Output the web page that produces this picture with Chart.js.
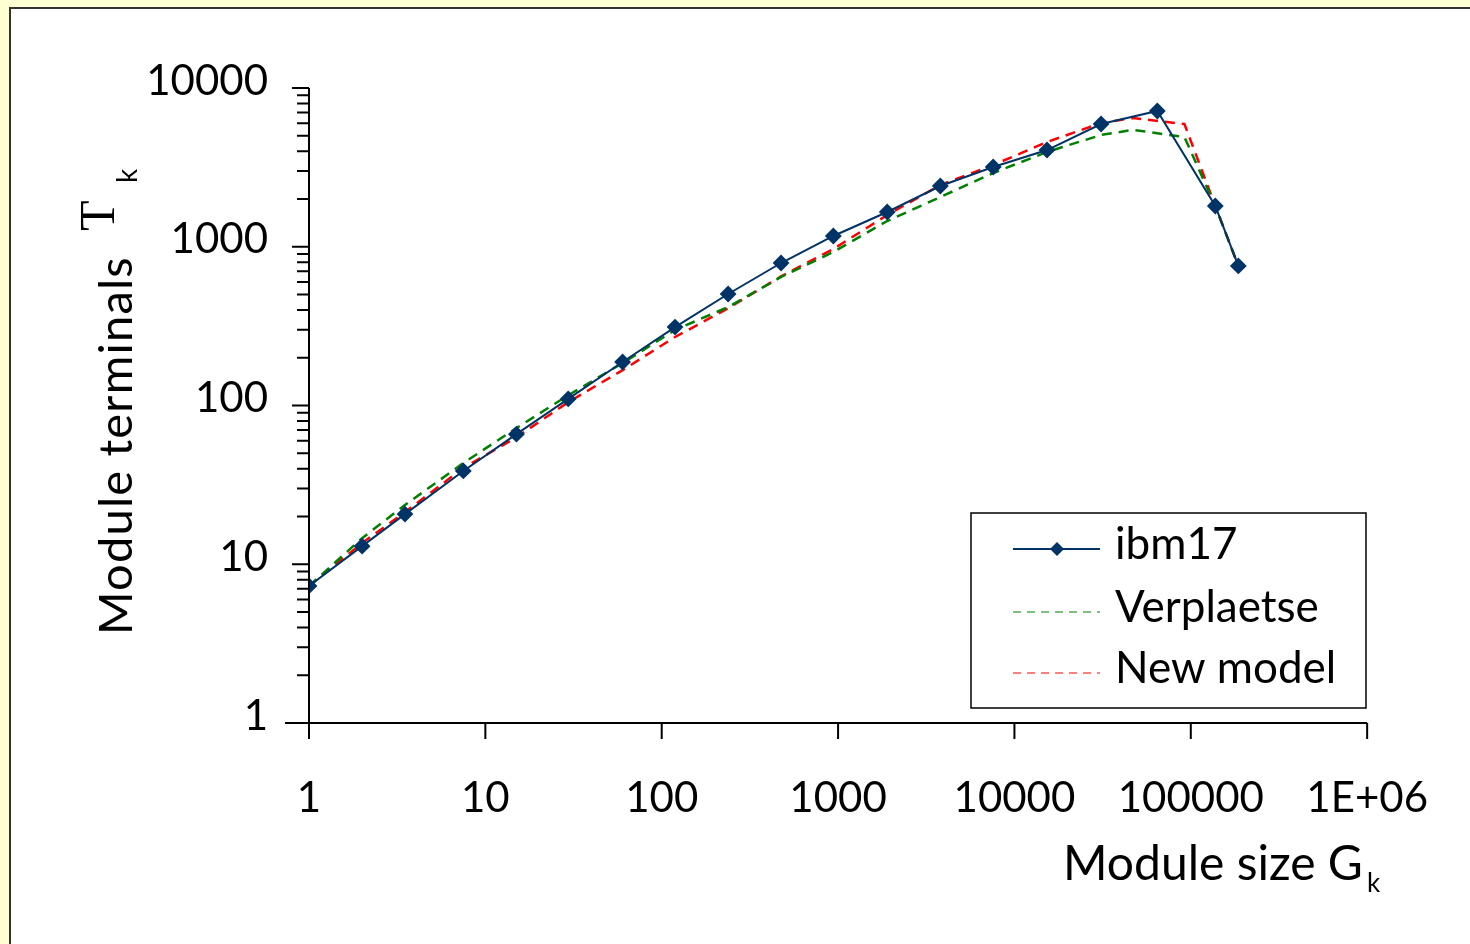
<!DOCTYPE html>
<html>
<head>
<meta charset="utf-8">
<script src="https://cdn.jsdelivr.net/npm/chart.js@4.4.1/dist/chart.umd.min.js"></script>
<style>
  html, body { margin: 0; padding: 0; width: 1470px; height: 944px; overflow: hidden; background: #FFFFD4; }
  #panel { position: absolute; left: 9px; top: 7px; width: 1470px; height: 944px; background: #fff;
           border-left: 2px solid #333; border-top: 2px solid #333; }
  #chart { position: absolute; left: 0; top: 0; }
</style>
</head>
<body>
<div id="panel"></div>
<canvas id="chart" width="1470" height="944"></canvas>
<script>
// module sizes G_k (x) and terminal counts T_k (y)
const sizes = [1, 2, 3.5, 7.5, 15, 29.5, 60, 119, 238, 475, 940, 1900, 3800, 7580, 15300, 31000, 64600, 137700, 186000];
const ibm17 = [7.3, 13.0, 20.7, 38.7, 66, 110, 188, 312, 504, 790, 1169, 1656, 2414, 3178, 4067, 5930, 7165, 1806, 757];

const modelSizes = [1, 2, 3.5, 7.5, 15, 29.5, 60, 119, 238, 475, 940, 1900, 3800, 7580, 15300, 31000, 47000, 92000, 137700, 186000];
const verplaetse = [7.3, 14.6, 23.6, 43.4, 72, 116, 185, 299, 417, 645, 927, 1453, 2057, 2915, 3954, 5060, 5450, 4910, 1806, 757];
const newModel = [7.3, 13.6, 21.3, 40.4, 63, 105, 167, 270, 410, 650, 968, 1585, 2449, 3273, 4570, 6020, 6470, 5930, 1806, 757];

const seriesNames = ['ibm17', 'Verplaetse', 'New model'];

const xTickValues = [1, 10, 100, 1000, 10000, 100000, 1000000];
const xTickLabels = ['1', '10', '100', '1000', '10000', '100000', '1E+06'];
const yTickValues = [1, 10, 100, 1000, 10000];
const yTickLabels = ['1', '10', '100', '1000', '10000'];

const FONT = 'Lato';

function toPoints(xs, ys) {
    return xs.map((x, i) => ({ x: x, y: ys[i] }));
}

// axis lines, major/minor tick marks and axis titles
const axesPlugin = {
    id: 'axesPlugin',
    afterDraw(chart) {
        const ctx = chart.ctx;
        const xs = chart.scales.x;
        const ys = chart.scales.y;
        const area = chart.chartArea;
        ctx.save();
        ctx.strokeStyle = '#000';
        ctx.lineWidth = 2;
        ctx.beginPath();
        ctx.moveTo(area.left, area.top);
        ctx.lineTo(area.left, area.bottom + 16);
        ctx.moveTo(area.left - 24, area.bottom);
        ctx.lineTo(area.right, area.bottom);
        // y ticks
        for (let e = 0; e <= 4; e++) {
            const base = Math.pow(10, e);
            const py = ys.getPixelForValue(base);
            ctx.moveTo(area.left - 17, py);
            ctx.lineTo(area.left, py);
            if (e < 4) {
                for (let d = 2; d <= 9; d++) {
                    const p = ys.getPixelForValue(base * d);
                    ctx.moveTo(area.left - 12, p);
                    ctx.lineTo(area.left, p);
                }
            }
        }
        // x ticks
        xTickValues.forEach(v => {
            const px = xs.getPixelForValue(v);
            ctx.moveTo(px, area.bottom);
            ctx.lineTo(px, area.bottom + 16);
        });
        ctx.stroke();

        // y title
        ctx.fillStyle = '#000';
        ctx.save();
        ctx.translate(132, 635);
        ctx.rotate(-Math.PI / 2);
        ctx.textAlign = 'left';
        ctx.textBaseline = 'alphabetic';
        ctx.font = '47px ' + FONT;
        ctx.letterSpacing = '1.2px';
        ctx.fillText('Module terminals', 0, 0);
        ctx.letterSpacing = '0px';
        ctx.font = '50px "Liberation Serif"';
        ctx.fillText('T', 404, -18);
        ctx.font = '28px ' + FONT;
        ctx.fillText('k', 452, 5);
        ctx.restore();

        // x title
        ctx.textAlign = 'left';
        ctx.textBaseline = 'alphabetic';
        ctx.font = '48px ' + FONT;
        ctx.fillText('Module size G', 1063, 880);
        ctx.font = '26px ' + FONT;
        ctx.fillText('k', 1367, 892);
        ctx.restore();
    }
};

// legend box inside the plot area
const legendPlugin = {
    id: 'legendPlugin',
    afterDraw(chart) {
        const ctx = chart.ctx;
        ctx.save();
        ctx.fillStyle = '#fff';
        ctx.fillRect(971, 513, 395, 195);
        ctx.strokeStyle = '#000';
        ctx.lineWidth = 1.5;
        ctx.strokeRect(971, 513, 395, 195);
        const rows = [549, 612, 673];
        chart.data.datasets.forEach((ds, i) => {
            const y = rows[i];
            ctx.strokeStyle = ds.borderColor;
            ctx.lineWidth = i === 0 ? 2 : 1.2;
            ctx.setLineDash(i === 0 ? [] : [8, 6]);
            ctx.beginPath();
            ctx.moveTo(1013, y);
            ctx.lineTo(1100, y);
            ctx.stroke();
            ctx.setLineDash([]);
            if (i === 0) {
                ctx.fillStyle = ds.pointBackgroundColor;
                ctx.beginPath();
                ctx.moveTo(1057, y - 7);
                ctx.lineTo(1064, y);
                ctx.lineTo(1057, y + 7);
                ctx.lineTo(1050, y);
                ctx.closePath();
                ctx.fill();
            }
            ctx.fillStyle = '#000';
            ctx.font = '44px ' + FONT;
            ctx.textAlign = 'left';
            ctx.textBaseline = 'middle';
            ctx.fillText(ds.label, 1115, y - 4);
        });
        ctx.restore();
    }
};

const ctx = document.getElementById('chart').getContext('2d');
new Chart(ctx, {
    type: 'line',
    data: {
        datasets: [
            {
                label: seriesNames[0],
                data: toPoints(sizes, ibm17),
                borderColor: '#003366',
                borderWidth: 2,
                pointStyle: 'rectRot',
                pointRadius: 7,
                pointBackgroundColor: '#003366',
                pointBorderColor: '#003366',
                tension: 0
            },
            {
                label: seriesNames[1],
                data: toPoints(modelSizes, verplaetse),
                borderColor: '#008000',
                borderWidth: 2.5,
                borderDash: [10, 7],
                pointRadius: 0,
                tension: 0
            },
            {
                label: seriesNames[2],
                data: toPoints(modelSizes, newModel),
                borderColor: '#FF0000',
                borderWidth: 2.5,
                borderDash: [10, 7],
                pointRadius: 0,
                tension: 0
            }
        ]
    },
    options: {
        responsive: false,
        animation: false,
        layout: { padding: { left: 0, right: 98, top: 88, bottom: 0 } },
        plugins: {
            legend: { display: false },
            tooltip: { enabled: false }
        },
        scales: {
            x: {
                type: 'logarithmic',
                min: 1,
                max: 1000000,
                grid: { display: false },
                border: { display: false },
                afterBuildTicks: s => { s.ticks = xTickValues.map(v => ({ value: v })); },
                afterFit: s => { s.height = 221; },
                ticks: {
                    autoSkip: false,
                    maxRotation: 0,
                    padding: 42,
                    color: '#000',
                    font: { family: FONT, size: 42 },
                    callback: (v, i) => xTickLabels[i]
                }
            },
            y: {
                type: 'logarithmic',
                min: 1,
                max: 10000,
                grid: { display: false },
                border: { display: false },
                afterBuildTicks: s => { s.ticks = yTickValues.map(v => ({ value: v })); },
                afterFit: s => { s.width = 309; },
                ticks: {
                    autoSkip: false,
                    padding: 33,
                    labelOffset: -7,
                    color: '#000',
                    font: { family: FONT, size: 42 },
                    callback: (v, i) => yTickLabels[i]
                }
            }
        }
    },
    plugins: [axesPlugin, legendPlugin]
});
</script>
</body>
</html>
